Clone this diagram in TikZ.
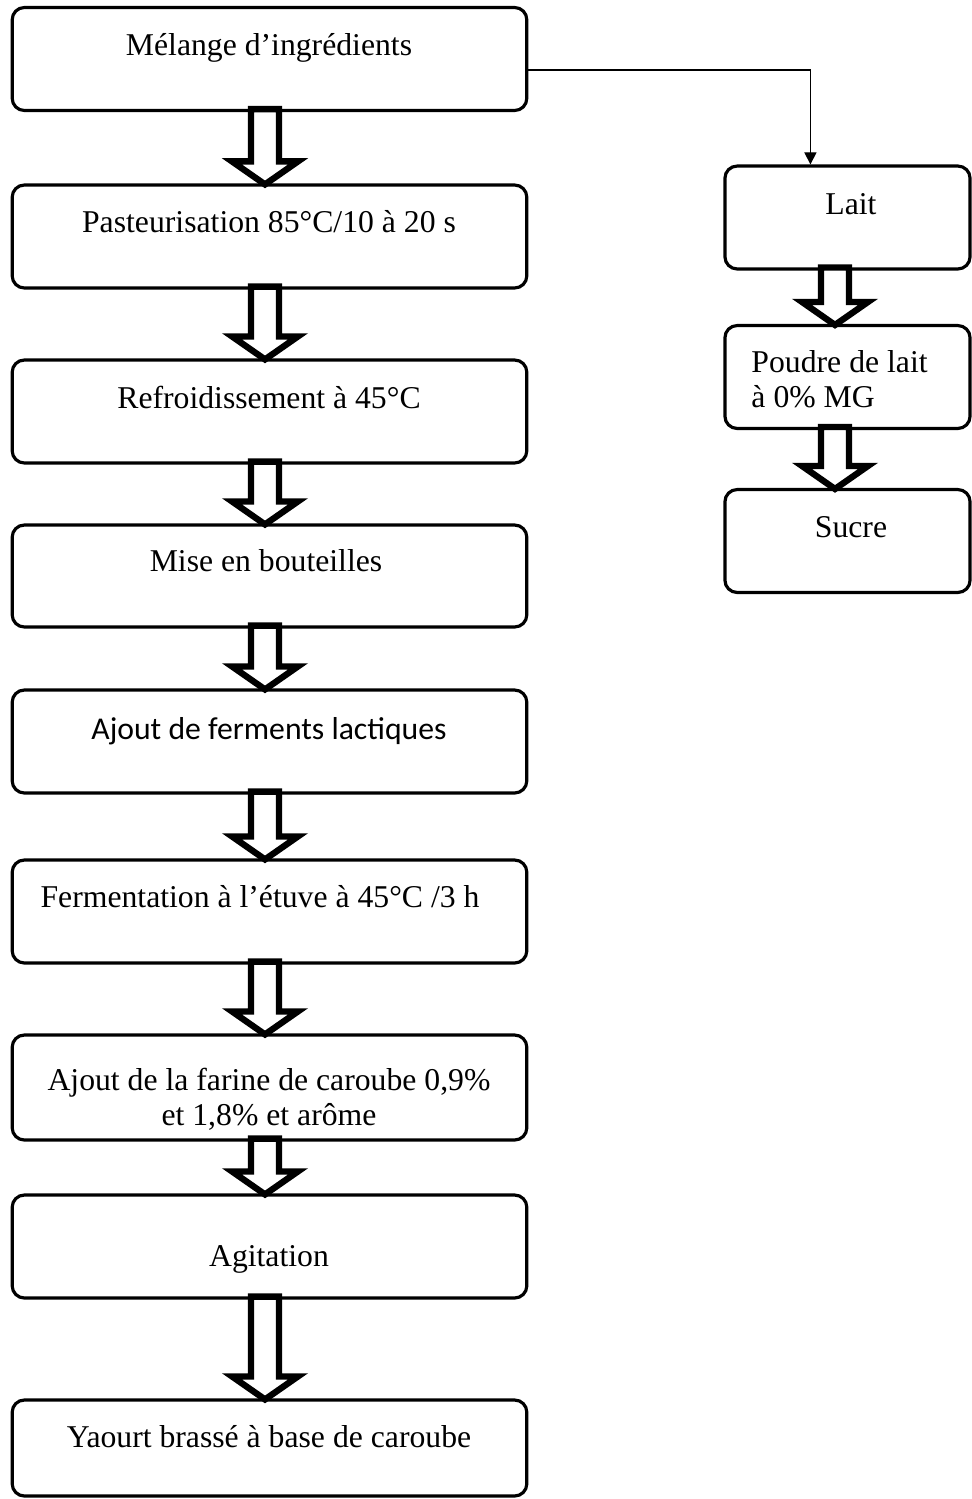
\documentclass[tikz,border=0pt]{standalone}
\usepackage{fontspec}
\setmainfont{Liberation Serif}
\newfontfamily\calibri{Carlito}
\usetikzlibrary{arrows.meta, calc}

\tikzset{
  stepbox/.style={draw, line width=1.3pt, rounded corners=5pt, minimum width=211pt, inner sep=0pt},
  sidebox/.style={stepbox, minimum width=100.5pt, minimum height=42.2pt},
  steptext/.style={inner sep=0pt, font=\fontsize{13}{14.5}\selectfont},
  fatline/.style={draw, fill=white, line width=2.6pt, miter limit=10},
  thinline/.style={line width=0.6pt, -{Triangle[length=5pt, width=5pt]}}
}

% hollow block arrow: #1 = x of the shaft, #2 = box above, #3 = box below
\newcommand{\fatarrow}[3]{%
  \path[fatline] ($(#1-14,0 |- #2.south)+(0,-3)$) -- ($(#1+14,0 |- #2.south)+(0,-3)$)
    -- ($(#1+14,0 |- #3.north)+(0,-22)$) -- ($(#1+33,0 |- #3.north)+(0,-22)$)
    -- ($(#1,0 |- #3.north)+(0,1)$)
    -- ($(#1-33,0 |- #3.north)+(0,-22)$) -- ($(#1-14,0 |- #3.north)+(0,-22)$)
    -- cycle;
}

\begin{document}
\begin{tikzpicture}[x=0.41pt, y=-0.41pt]
  \useasboundingbox (0,0) rectangle (971,1499);

  % main chain of boxes
  \foreach \n/\y/\h in {1/59/103, 2/236.5/103, 3/411.5/103, 4/576/102, 5/741.5/103,
                        6/911.5/103, 7/1087.5/105, 8/1246.5/103, 9/1448/96}
    \node[stepbox, minimum height=\h*0.41pt] (b\n) at (269.5,\y) {};

  % side boxes
  \node[sidebox] (lait) at (847.5,217.5) {};
  \node[sidebox] (poudre) at (847.5,377) {};
  \node[sidebox] (sucre) at (847.5,541) {};

  % texts
  \node[steptext, anchor=base] (t1) at (269,55) {Mélange d’ingrédients};
  \node[steptext, anchor=base] (t2) at (269,232) {Pasteurisation 85°C/10 à 20 s};
  \node[steptext, anchor=base] (t3) at (269,408) {Refroidissement à 45°C};
  \node[steptext, anchor=base] (t4) at (266,571) {Mise en bouteilles};
  \node[steptext, anchor=base, font=\calibri\fontsize{13}{14.5}\selectfont] (t5) at (269,739) {Ajout de ferments lactiques};
  \node[steptext, anchor=base] (t6) at (260,907) {Fermentation à l’étuve à 45°C /3 h};
  \node[steptext, align=center] (t7) at (269,1099) {Ajout de la farine de caroube 0,9\%\\et 1,8\% et arôme};
  \node[steptext, anchor=base] (t8) at (269,1266) {Agitation};
  \node[steptext, anchor=base] (t9) at (269,1447) {Yaourt brassé à base de caroube};
  \node[steptext, anchor=base] (tl) at (851,214) {Lait};
  \node[steptext, align=left, anchor=west] (tp) at (751,379) {Poudre de lait\\à 0\% MG};
  \node[steptext, anchor=base] (ts) at (851,537) {Sucre};

  % block arrows
  \foreach \a/\b in {1/2, 2/3, 3/4, 4/5, 5/6, 6/7, 7/8, 8/9}
    {\fatarrow{265}{b\a}{b\b}}
  \fatarrow{835}{lait}{poudre}
  \fatarrow{835}{poudre}{sucre}

  % branch to the side column
  \draw[thinline] ([yshift=-4.5pt]b1.east) -| ([xshift=-15.2pt]lait.north);
\end{tikzpicture}
\end{document}
